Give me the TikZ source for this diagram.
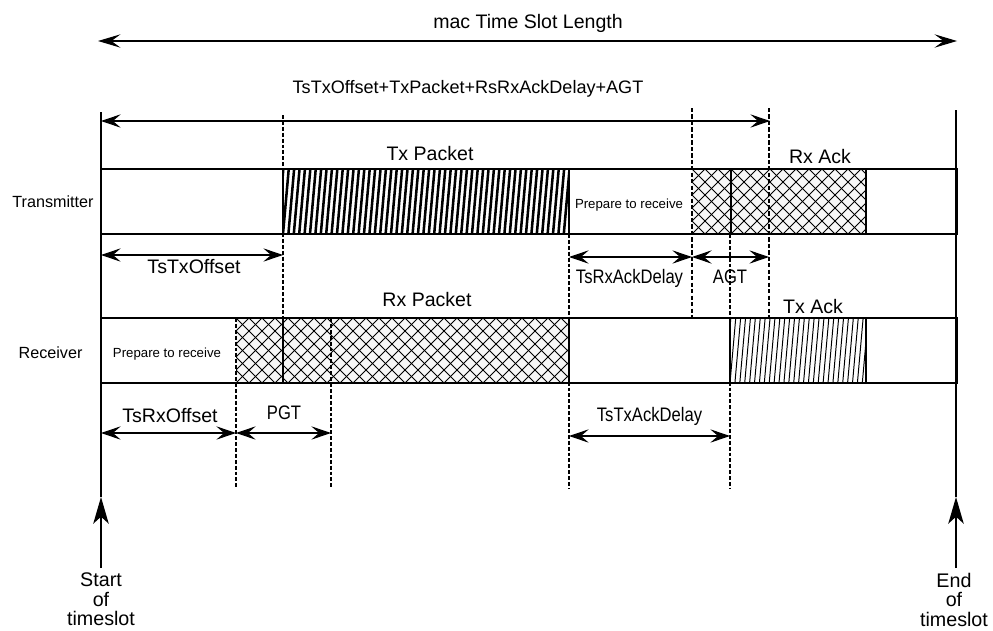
\documentclass[tikz,border=0pt]{standalone}
\usepackage{fontspec}
\setmainfont{Liberation Sans}
\usetikzlibrary{arrows.meta,calc}

\newcommand{\narrow}[1]{\scalebox{0.85}[1]{#1}}

\begin{document}
\begin{tikzpicture}[x=0.025cm, y=-0.025cm,
    every node/.style={inner sep=0pt},
    biglbl/.style={font=\fontsize{13.9}{16}\selectfont, anchor=base},
    dimlbl/.style={font=\fontsize{13.9}{16}\selectfont, anchor=base},
    rowlbl/.style={font=\fontsize{11.5}{14}\selectfont, anchor=base},
    preplbl/.style={font=\fontsize{9.4}{11}\selectfont, anchor=base},
    edgelbl/.style={font=\fontsize{14}{13.9}\selectfont, align=center, anchor=north, outer sep=3.5pt},
    cellbox/.style={line width=1.4pt},
    slash/.style 2 args={path picture={
        \coordinate (sw) at (path picture bounding box.south west);
        \foreach \k in {-2,...,60}
          \draw[line width=#1] ($(sw)+(\k*#2,0)$) -- ++(6,-68);}},
    xhatch/.style={fill=black!3, path picture={
        \coordinate (sw) at (path picture bounding box.south west);
        \foreach \k in {-6,...,33}{
          \draw[line width=0.6pt] ($(sw)+(\k*13,0)$) -- ++(70,-70);
          \draw[line width=0.6pt] ($(sw)+(\k*13,0)$) -- ++(-70,-70);}}},
    guide/.style={line width=1.3pt, dash pattern=on 2.8pt off 1.4pt},
    guidebold/.style={line width=1.9pt, dash pattern=on 3pt off 1.6pt},
    slotline/.style={line width=1pt},
    dimarrow/.style={{Stealth[length=14pt,width=9.5pt,inset=5.5pt]}-{Stealth[length=14pt,width=9.5pt,inset=5.5pt]}, line width=0.75pt},
    spanarrow/.style={{Stealth[length=16pt,width=9.5pt,inset=6.5pt]}-{Stealth[length=16pt,width=9.5pt,inset=6.5pt]}, line width=0.75pt},
    uparrow/.style={-{Stealth[length=19pt,width=11pt,inset=5pt]}, line width=1pt}
]
\useasboundingbox (0,0) rectangle (993,631);

% time marks
\coordinate (sTop)    at (101,112); \coordinate (sTip)    at (101,497);
\coordinate (eTop)    at (956,110); \coordinate (eTip)    at (956,497);
\coordinate (txOn)    at (283,115); \coordinate (txOnB)   at (283,318);
\coordinate (agtOn)   at (692,108); \coordinate (agtOnB)  at (692,318);
\coordinate (agtOff)  at (769,108); \coordinate (agtOffB) at (769,318);
\coordinate (txOff)   at (569,234); \coordinate (txOffB)  at (569,488);
\coordinate (ackOn)   at (730,234); \coordinate (ackOnB)  at (730,488);
\coordinate (rxOn)    at (236,318); \coordinate (rxOnB)   at (236,488);
\coordinate (pgtOff)  at (331,318); \coordinate (pgtOffB) at (331,488);
\coordinate (slotL)   at (98,41);   \coordinate (slotR)   at (957,41);
\coordinate (sumR)    at (770,121);
\coordinate (lvA) at (0,255); \coordinate (lvB) at (0,257);
\coordinate (lvC) at (0,433); \coordinate (lvD) at (0,436);

% transmitter row
\path[slash={1.8pt}{5.4}] (283,169) rectangle (569,234);
\path[xhatch] (692,169) rectangle (866,234);
\draw[cellbox] (283,169) rectangle (569,234);
\draw[cellbox] (731,169) rectangle (866,234);
\draw[cellbox] (101,169) rectangle (957,234);

% receiver row
\path[xhatch] (236,318) rectangle (569,383);
\path[slash={0.7pt}{4.9}] (730,318) rectangle (866,383);
\draw[cellbox] (283,318) rectangle (569,383);
\draw[cellbox] (730,318) rectangle (866,383);
\draw[cellbox] (101,318) rectangle (957,383);

% guide lines
\draw[guide] (txOn) -- (txOnB);
\draw[guidebold] (agtOn) -- (agtOnB);
\draw[guidebold] (agtOff) -- (agtOffB);
\draw[guide] (txOff) -- (txOffB);
\draw[guide] (ackOn) -- (ackOnB);
\draw[guide] (rxOn) -- (rxOnB);
\draw[guide] (pgtOff) -- (pgtOffB);

% slot borders
\draw[slotline] (sTop) -- (sTip);
\draw[slotline] (eTop) -- (eTip);
\node[edgelbl] (sLbl) at (101,568) {Start\\of\\timeslot};
\node[edgelbl] (eLbl) at (954,568) {End\\of\\timeslot};
\draw[uparrow] (sLbl.north) -- (sTip);
\draw[uparrow] (sLbl.north -| eTip) -- (eTip);

% spans
\draw[spanarrow] (slotL) -- (slotR);
\node[biglbl] (slotLbl) at (528,28) {mac Time Slot Length};
\draw[dimarrow] (sTop |- sumR) -- (sumR);
\node[biglbl, font=\fontsize{12.85}{15}\selectfont] (sumLbl) at (468,93) {TsTxOffset+TxPacket+RsRxAckDelay+AGT};
\draw[dimarrow] (sTop |- lvA) -- (txOn |- lvA);
\node[biglbl] (txOffLbl) at (194,273) {TsTxOffset};
\draw[dimarrow] (txOff |- lvB) -- (agtOn |- lvB);
\node[dimlbl] (rxAckDlyLbl) at (629.5,283) {\narrow{TsRxAckDelay}};
\draw[dimarrow] (agtOn |- lvB) -- (agtOff |- lvB);
\node[dimlbl] (agtLbl) at (730,283) {\narrow{AGT}};
\draw[dimarrow] (sTop |- lvC) -- (rxOn |- lvC);
\node[biglbl] (rxOffLbl) at (170,422) {TsRxOffset};
\draw[dimarrow] (rxOn |- lvC) -- (pgtOff |- lvC);
\node[dimlbl] (pgtLbl) at (284,419) {\narrow{PGT}};
\draw[dimarrow] (txOff |- lvD) -- (ackOn |- lvD);
\node[dimlbl] (txAckDlyLbl) at (649.5,421) {\narrow{TsTxAckDelay}};

% row texts
\node[rowlbl] (txRow) at (53,207) {Transmitter};
\node[rowlbl] (rxRow) at (50.5,358) {Receiver};
\node[biglbl] (txPkt) at (430,160) {Tx Packet};
\node[biglbl] (rxAck) at (820,163) {Rx Ack};
\node[biglbl] (rxPkt) at (427,306) {Rx Packet};
\node[biglbl] (txAck) at (813,313) {Tx Ack};
\node[preplbl] (txPrep) at (629,208) {Prepare to receive};
\node[preplbl] (rxPrep) at (167,357) {Prepare to receive};
\end{tikzpicture}
\end{document}
